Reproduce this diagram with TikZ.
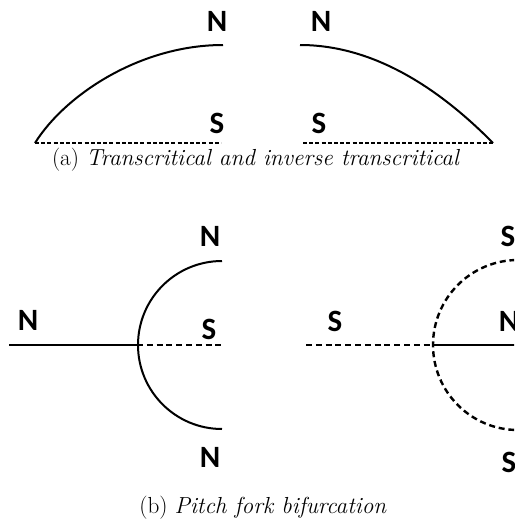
\documentclass[tikz,border=0pt]{standalone}
\usepackage{fontspec}
\newfontfamily\lblfont{Carlito}
\tikzset{
  lab/.style={font=\lblfont\bfseries\fontsize{31}{31}\selectfont, inner sep=0pt},
  stable/.style={line width=2pt},
  unstable/.style={line width=1.4pt, dash pattern=on 4pt off 2.2pt},
  unstablebold/.style={line width=2.4pt, dash pattern=on 6pt off 3.8pt},
  captxt/.style={font=\fontsize{23.2}{26}\selectfont, inner sep=0pt}
}
\begin{document}
\begin{tikzpicture}[x=1pt,y=-1pt]
  \useasboundingbox (0,0) rectangle (514,522);
  \clip (0,0) rectangle (514,522);

  % (a) transcritical
  \coordinate (tl0) at (35,143);
  \coordinate (tl1) at (223,45);
  \coordinate (tl2) at (221,143);
  \coordinate (tr0) at (300,45);
  \coordinate (tr1) at (493,143);
  \coordinate (tr2) at (303,143);

  \node[lab] (Na) at (217,21) {N};
  \node[lab] (Sa) at (217,123) {S};
  \node[lab] (Nb) at (321,21) {N};
  \node[lab] (Sb) at (319,123) {S};

  \draw[stable] (tl0) .. controls (65,95) and (140,45) .. (tl1);
  \draw[unstable] (tl0) -- (tl2);
  \draw[stable] (tr0) .. controls (364,45) and (429,78) .. (tr1);
  \draw[unstable] (tr2) -- (tr1);

  \node[captxt] (capa) at (256,160) {(a) \textit{Transcritical and inverse transcritical}};

  % (b) pitch fork
  \coordinate (pl0) at (9,345);
  \coordinate (pl1) at (137,345);
  \coordinate (pl2) at (222,345);
  \coordinate (pl3) at (222,261);
  \coordinate (pr0) at (306,345);
  \coordinate (pr1) at (433,345);
  \coordinate (pr2) at (520,345);
  \coordinate (pr3) at (518,345);

  \node[lab] (Nc) at (28,320) {N};
  \node[lab] (Sc) at (209,329) {S};
  \node[lab] (Nd) at (210,236) {N};
  \node[lab] (Ne) at (210,457) {N};
  \node[lab] (Sd) at (335,321) {S};
  \node[lab] (Nf) at (509,321) {N};
  \node[lab] (Se) at (508,236) {S};
  \node[lab] (Sf) at (509,462) {S};

  \draw[stable] (pl0) -- (pl1);
  \draw[unstablebold] (pl1) -- (pl2);
  \draw[stable] (pl3) arc[start angle=270, end angle=90, radius=84];
  \draw[unstablebold] (pr0) -- (pr1);
  \draw[stable] (pr1) -- (pr2);
  \draw[unstablebold] (pr3) circle[radius=85];

  \node[captxt] (capb) at (263,508) {(b) \textit{Pitch fork bifurcation}};
\end{tikzpicture}
\end{document}
